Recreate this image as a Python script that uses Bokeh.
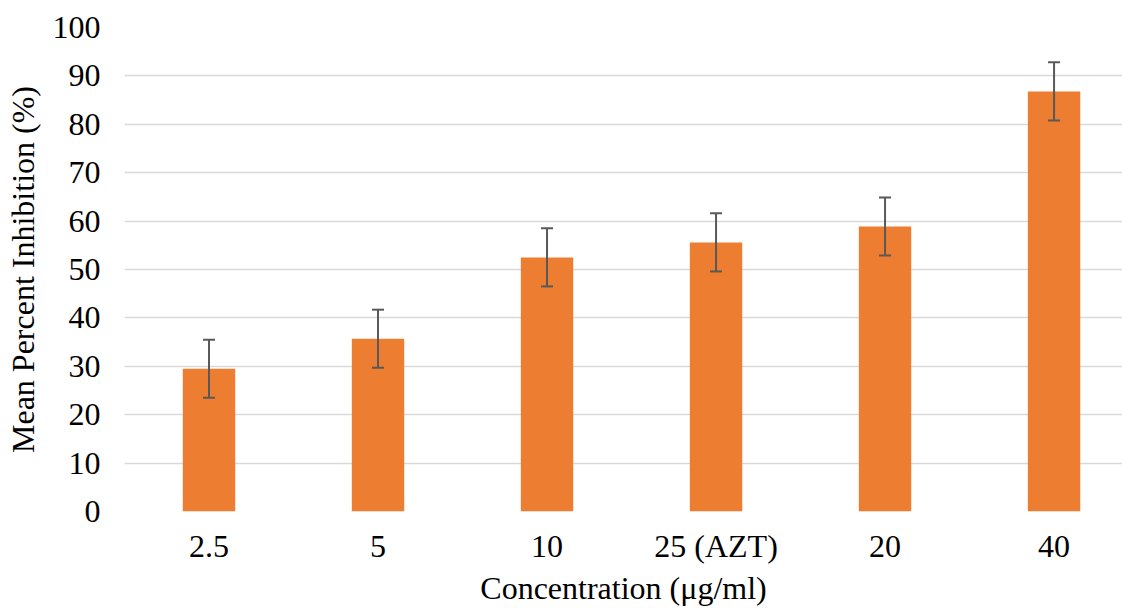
from bokeh.plotting import figure
from bokeh.models import ColumnDataSource, Whisker, TeeHead, FixedTicker, Range1d
from bokeh.embed import file_html
from bokeh.resources import INLINE

categories = ["2.5", "5", "10", "25 (AZT)", "20", "40"]
means = [29.5, 35.7, 52.5, 55.6, 58.9, 86.8]
errors = [6.0, 6.0, 6.0, 6.0, 6.0, 6.0]

xs = [i + 0.5 for i in range(len(categories))]
src = ColumnDataSource(dict(
    x=xs, top=means,
    upper=[m + e for m, e in zip(means, errors)],
    lower=[m - e for m, e in zip(means, errors)],
))

FONT = "Liberation Serif"
p = figure(width=1122, height=608, output_backend="svg", toolbar_location=None,
           x_range=Range1d(0, 5.905), y_range=Range1d(0, 100),
           min_border_left=124, min_border_right=0, min_border_top=27, min_border_bottom=97)
p.outline_line_color = None
p.background_fill_color = "white"

p.vbar(x="x", top="top", width=0.31, source=src, fill_color="#ED7D31", line_color=None)
w = Whisker(base="x", upper="upper", lower="lower", source=src, level="overlay",
            line_color="#595959", line_width=2,
            upper_head=TeeHead(size=12, line_color="#595959", line_width=2),
            lower_head=TeeHead(size=12, line_color="#595959", line_width=2))
p.add_layout(w)

p.xaxis.ticker = FixedTicker(ticks=xs)
p.xaxis.major_label_overrides = {x: c for x, c in zip(xs, categories)}
p.yaxis.ticker = FixedTicker(ticks=list(range(0, 101, 10)))
p.xgrid.grid_line_color = None
p.ygrid.grid_line_color = "#D9D9D9"
p.ygrid.grid_line_width = 1.5

for ax in (p.xaxis[0], p.yaxis[0]):
    ax.axis_line_color = None
    ax.major_tick_line_color = None
    ax.minor_tick_line_color = None
    ax.major_tick_out = 0
    ax.major_tick_in = 0
    ax.minor_tick_out = 0
    ax.minor_tick_in = 0
    ax.major_label_text_font = FONT
    ax.major_label_text_font_size = "32px"
    ax.major_label_text_color = "black"
    ax.axis_label_text_font = FONT
    ax.axis_label_text_font_size = "32px"
    ax.axis_label_text_font_style = "normal"
    ax.axis_label_text_color = "black"

p.xaxis.axis_label = "Concentration (μg/ml)"
p.yaxis.axis_label = "Mean Percent Inhibition (%)"
p.xaxis.major_label_standoff = 16
p.xaxis.axis_label_standoff = 3
p.yaxis.major_label_standoff = 24
p.yaxis.axis_label_standoff = 9

open("out.html", "w").write(file_html(p, INLINE))
